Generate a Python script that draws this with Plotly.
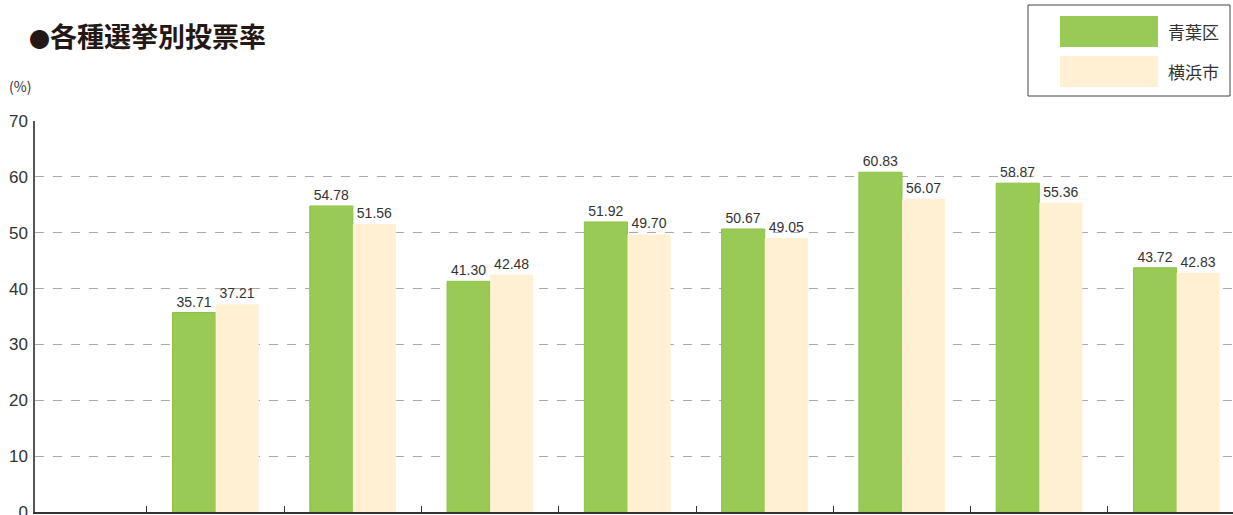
import plotly.graph_objects as go

# 各種選挙別投票率 (%)
elections = [0, 1, 2, 3, 4, 5, 6, 7]
aoba = [35.71, 54.78, 41.30, 51.92, 50.67, 60.83, 58.87, 43.72]
yokohama = [37.21, 51.56, 42.48, 49.70, 49.05, 56.07, 55.36, 42.83]
series_names = ["青葉区", "横浜市"]

GREEN = "#9aca56"
CREAM = "#fff0d4"
TEXT = "#333333"
LABEL_FONT = "Liberation Sans Narrow, Liberation Sans, Arial Narrow, sans-serif"
CJK_FONT = "Noto Sans CJK JP, Noto Sans, sans-serif"

fig = go.Figure()
fig.add_trace(go.Bar(
    x=elections, y=aoba, name=series_names[0],
    marker=dict(color=GREEN, line=dict(color="#8cc244", width=1)),
    text=[f"{v:.2f}" for v in aoba], textposition="outside",
    textfont=dict(family=LABEL_FONT, size=14, color=TEXT),
    cliponaxis=False,
))
fig.add_trace(go.Bar(
    x=elections, y=yokohama, name=series_names[1],
    marker=dict(color=CREAM, line=dict(width=0)),
    text=[f"{v:.2f}" for v in yokohama], textposition="outside",
    textfont=dict(family=LABEL_FONT, size=14, color=TEXT),
    cliponaxis=False,
))

# plot area in pixels: left 35, right 1233, top 121, bottom 512
L, R, T, B = 35, 1233, 121, 512
W, H = R - L, B - T


def px(x):
    return (x - L) / W


def py(y):
    return (B - y) / H


shapes = [
    # legend frame and swatches
    dict(type="rect", xref="paper", yref="paper",
         x0=px(1028), x1=px(1230), y0=py(96), y1=py(5),
         line=dict(color="#444444", width=1), fillcolor="white"),
    dict(type="rect", xref="paper", yref="paper",
         x0=px(1060), x1=px(1158), y0=py(47), y1=py(16),
         line=dict(width=0), fillcolor=GREEN),
    dict(type="rect", xref="paper", yref="paper",
         x0=px(1060), x1=px(1158), y0=py(87), y1=py(56),
         line=dict(width=0), fillcolor=CREAM),
]

annotations = [
    dict(text="<b><span style='font-size:21px'>●</span>各種選挙別投票率</b>",
         xref="paper", yref="paper",
         x=px(27), y=py(36), xanchor="left", yanchor="middle", showarrow=False,
         font=dict(family=CJK_FONT, size=27, color="#231815")),
    dict(text="(%)", xref="paper", yref="paper",
         x=px(7), y=py(86), xanchor="left", yanchor="middle", showarrow=False,
         font=dict(family=CJK_FONT, size=14, color=TEXT)),
    dict(text=series_names[0], xref="paper", yref="paper",
         x=px(1166), y=py(32), xanchor="left", yanchor="middle", showarrow=False,
         font=dict(family=CJK_FONT, size=17, color=TEXT)),
    dict(text=series_names[1], xref="paper", yref="paper",
         x=px(1166), y=py(71), xanchor="left", yanchor="middle", showarrow=False,
         font=dict(family=CJK_FONT, size=17, color=TEXT)),
]

fig.update_layout(
    width=1233, height=515,
    margin=dict(l=L, r=1233 - R, t=T, b=515 - B, autoexpand=False),
    paper_bgcolor="white", plot_bgcolor="white",
    barmode="group", bargap=0.372, bargroupgap=0,
    showlegend=False,
    shapes=shapes, annotations=annotations,
    xaxis=dict(
        range=[-1.3155, 7.411], showgrid=False, zeroline=False,
        showline=True, linecolor="#333333", linewidth=2, automargin=False,
        tickmode="array", tickvals=[i - 0.5 for i in elections],
        ticktext=["" for _ in elections],
        ticks="inside", ticklen=6, tickcolor="#333333", tickwidth=1,
    ),
    yaxis=dict(
        range=[0, 70], dtick=10, showgrid=True, automargin=False,
        gridcolor="#aaaaaa", griddash="dash", gridwidth=1,
        zeroline=False, showline=True, linecolor="#555555", linewidth=1.5,
        ticks="", ticklabelstandoff=2, ticklabeloverflow="allow",
        tickfont=dict(family="Liberation Sans, Arial, sans-serif", size=17, color=TEXT),
    ),
)

fig.write_html("out.html")
